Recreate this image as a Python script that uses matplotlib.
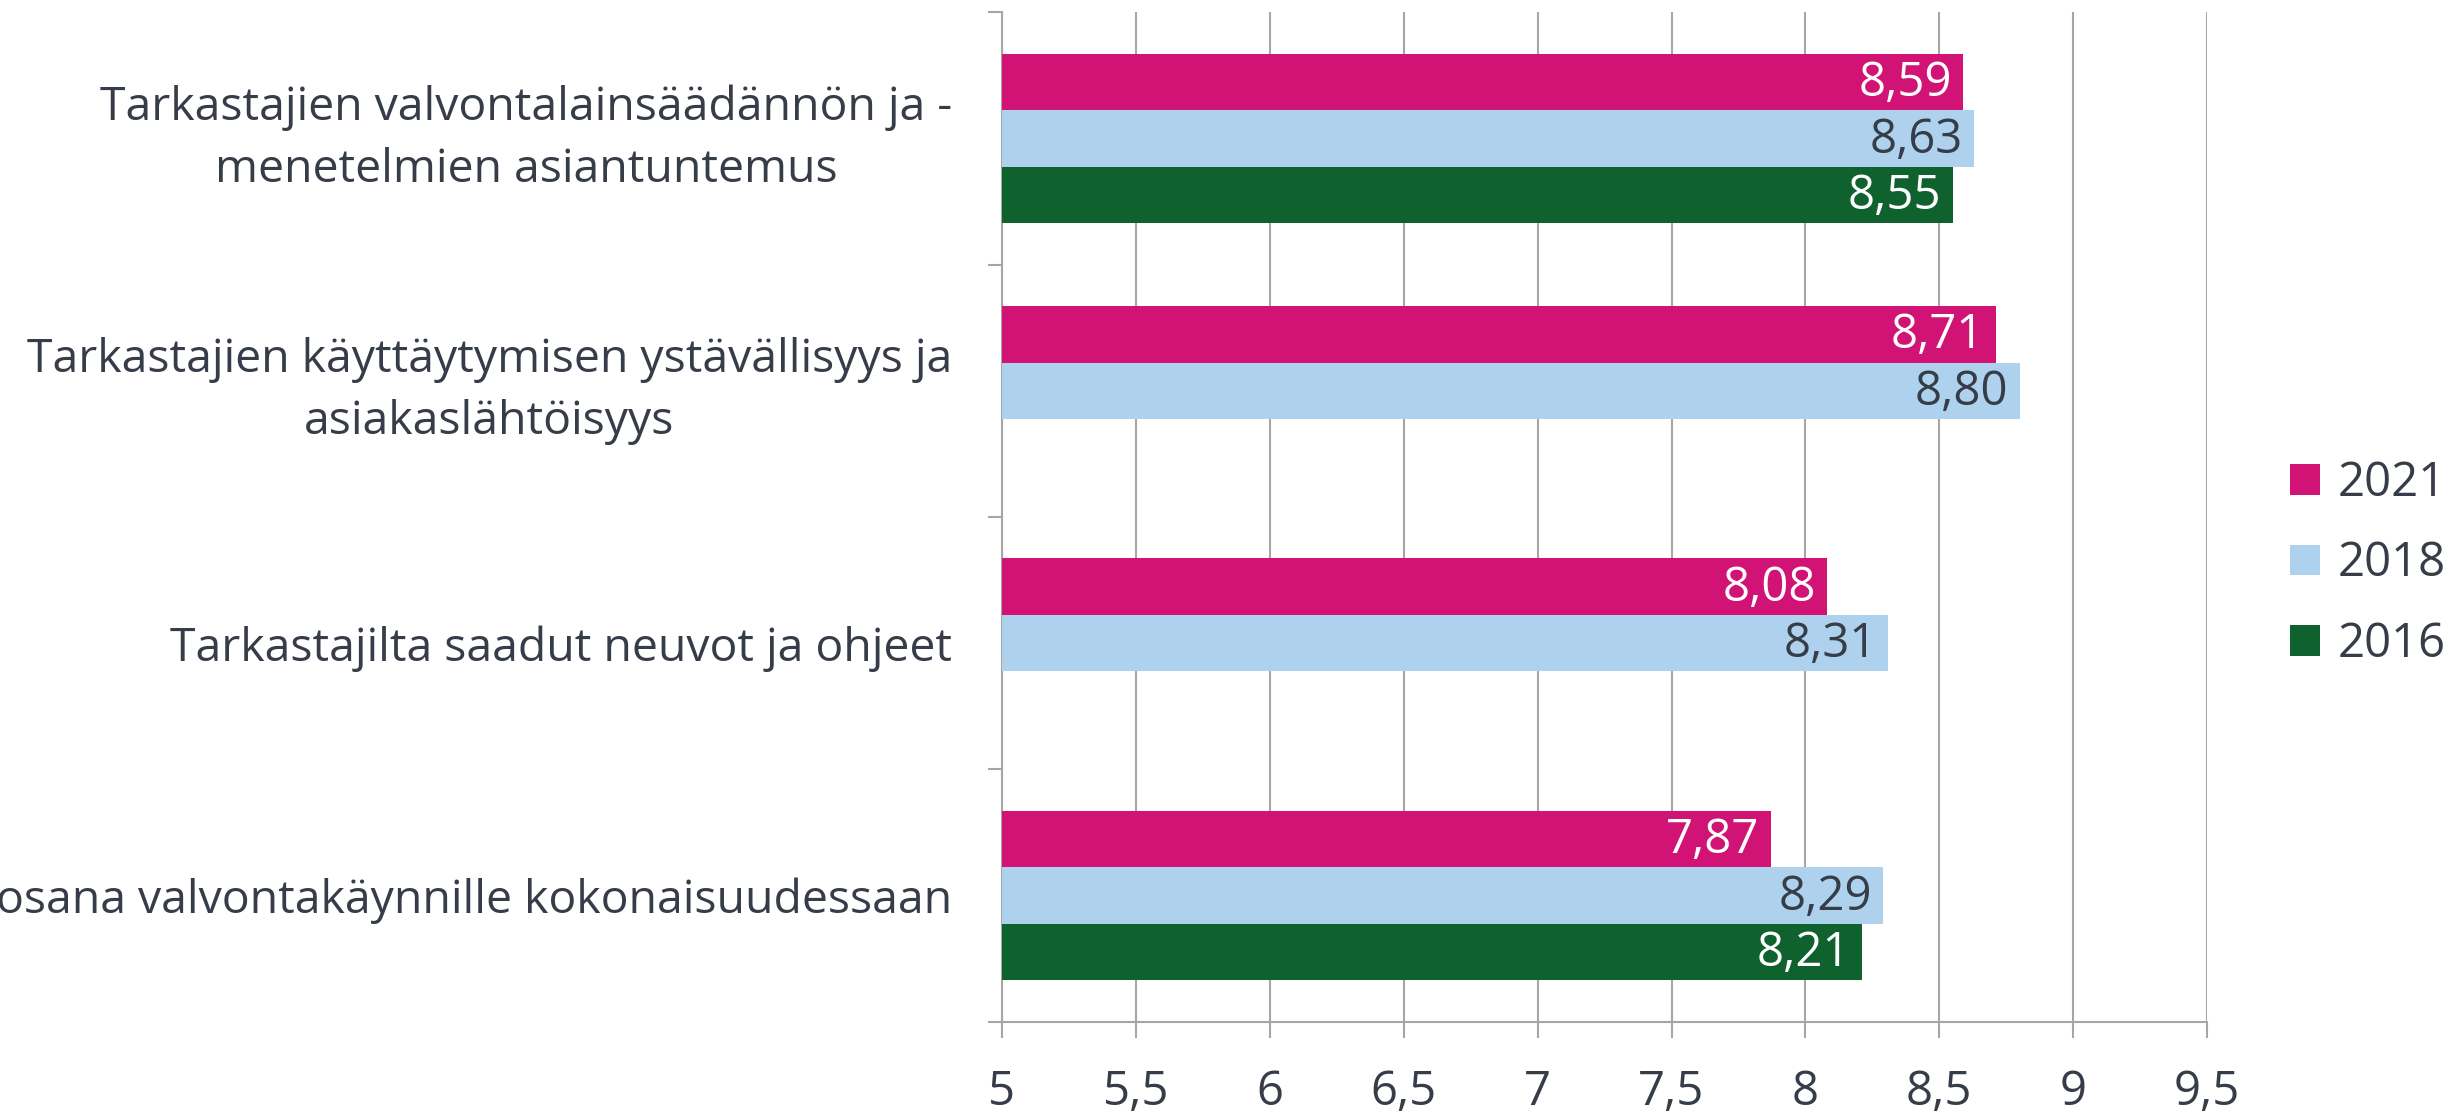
import matplotlib
matplotlib.use("Agg")
import matplotlib.pyplot as plt
import numpy as np
from matplotlib.patches import Patch

categories = [
    "Tarkastajien valvontalainsäädännön ja -\nmenetelmien asiantuntemus",
    "Tarkastajien käyttäytymisen ystävällisyys ja\nasiakaslähtöisyys",
    "Tarkastajilta saadut neuvot ja ohjeet",
    "osana valvontakäynnille kokonaisuudessaan",
]
series_names = ["2021", "2018", "2016"]
values_2021 = [8.59, 8.71, 8.08, 7.87]
values_2018 = [8.63, 8.80, 8.31, 8.29]
values_2016 = [8.55, np.nan, np.nan, 8.21]
x_ticks = [5, 5.5, 6, 6.5, 7, 7.5, 8, 8.5, 9, 9.5]
x_tick_labels = ["5", "5,5", "6", "6,5", "7", "7,5", "8", "8,5", "9", "9,5"]

colors = ["#D01375", "#AED2EE", "#0F612E"]
label_colors = ["white", "#363C48", "white"]
text_color = "#363C48"
grid_color = "#A6A6A6"
FONT = ["Open Sans", "DejaVu Sans"]

plt.rcParams['font.family'] = FONT

fig = plt.figure(figsize=(24.51, 11.14), dpi=100)
ax = fig.add_axes([0.4088, 0.083, 0.9005 - 0.4088, 0.989 - 0.083])

h = 0.2236
offsets = [-h, 0, h]
y = np.arange(len(categories))
all_series = [values_2021, values_2018, values_2016]
for i, (vals, col, lc) in enumerate(zip(all_series, colors, label_colors)):
    ypos = y + offsets[i]
    ax.barh(ypos, vals, height=h, color=col, zorder=3, linewidth=0)
    for yy, v in zip(ypos, vals):
        if np.isnan(v):
            continue
        ax.annotate(f"{v:.2f}".replace(".", ","), xy=(v, yy), xytext=(-8, -1),
                    textcoords="offset points", ha="right", va="center",
                    color=lc, fontsize=34, zorder=4)

ax.set_xlim(5, 9.5)
ax.set_ylim(len(categories) - 0.5, -0.5)

ax.set_xticks(x_ticks)
ax.set_xticklabels(x_tick_labels, fontsize=34, color=text_color)
ax.tick_params(axis='x', length=11.5, width=1.5, color=grid_color, pad=22)

ax.set_yticks(y)
ax.set_yticklabels(categories, fontsize=33.4, color=text_color, linespacing=1.46)
ax.tick_params(axis='y', which='major', length=0, pad=36)
ax.set_yticks(np.arange(-0.5, len(categories)), minor=True)
ax.tick_params(axis='y', which='minor', length=10, width=1.5, color=grid_color)
for lab in ax.get_yticklabels():
    lab.set_horizontalalignment('right')
    lab.set_multialignment('center')
    if "\n" in lab.get_text():
        lab.set_verticalalignment('center')

ax.grid(axis='x', color=grid_color, linewidth=1.5, zorder=0)
ax.set_axisbelow(True)
for s in ['top', 'right']:
    ax.spines[s].set_visible(False)
ax.spines['left'].set_color(grid_color)
ax.spines['left'].set_linewidth(1.5)
ax.spines['bottom'].set_color(grid_color)
ax.spines['bottom'].set_linewidth(1.5)

handles = [Patch(facecolor=c, edgecolor='none') for c in colors]
fig.legend(handles, series_names, loc='center left', bbox_to_anchor=(0.9345, 0.494),
           frameon=False, fontsize=34, handlelength=0.62, handleheight=0.62,
           handletextpad=0.38, labelspacing=0.7, borderpad=0, borderaxespad=0,
           labelcolor=text_color)

fig.savefig("out.png", dpi=100, facecolor="white")
